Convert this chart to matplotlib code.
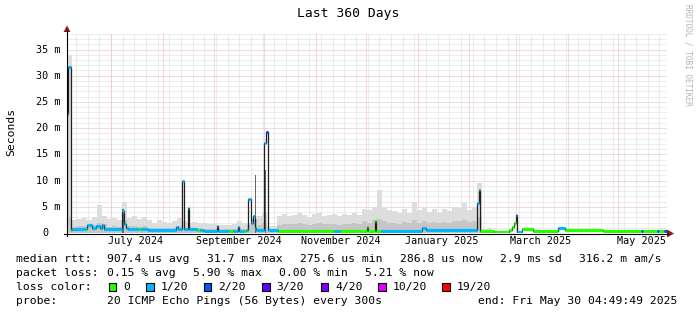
import matplotlib
matplotlib.use('Agg')
import matplotlib.pyplot as plt
from matplotlib.patches import Polygon, Rectangle
from datetime import datetime, timedelta

# ---- data (times in days since graph start, values in ms) ----
START = datetime(2024, 6, 4, 4, 49, 49)
SPAN = 360.0

# median rtt, step series: value holds until the next day entry
med_day = [0.0, 0.4, 1.0, 2.6, 3.3, 11.7, 12.3, 15.0, 17.4, 19.8, 21.0, 22.2,
           33.3, 34.2, 35.4, 36.6, 43.2, 44.7, 48.6, 65.4, 66.9, 69.3, 70.2,
           72.6, 73.5, 78.3, 80.1, 82.5, 90.0, 90.6, 97.5, 99.9, 102.9, 103.5,
           106.2, 107.7, 108.6, 109.5, 110.4, 111.6, 112.8, 113.7, 118.2, 119.4,
           120.6, 126.9, 160.2, 164.1, 180.0, 180.6, 185.1, 185.7, 188.7, 213.0,
           215.7, 246.3, 247.2, 248.1, 256.5, 265.5, 267.0, 268.2, 269.4, 270.3,
           273.0, 279.9, 294.9, 298.8, 321.9, 344.7, 345.9, 354.3, 355.2, 358.5]
med_ms = [3.3, 22.7, 31.7, 0.55, 0.75, 0.8, 1.5, 1.0, 1.3, 1.0, 1.6, 0.8,
          4.2, 1.7, 1.0, 0.8, 0.7, 0.8, 0.65, 1.2, 0.7, 9.9, 0.7,
          4.7, 0.7, 0.6, 0.6, 0.45, 1.3, 0.45, 0.45, 0.45, 1.2, 0.45,
          0.45, 0.5, 6.4, 6.5, 1.9, 3.3, 1.0, 0.5, 17.2, 19.3,
          0.5, 0.3, 0.35, 0.3, 1.2, 0.3, 2.2, 0.35, 0.45, 0.9,
          0.5, 5.7, 8.2, 0.45, 0.2, 0.6, 1.2, 2.0, 3.5, 0.25,
          0.7, 0.35, 1.0, 0.5, 0.3, 0.3, 0.3, 0.3, 0.3, 0.3]
# loss bin index per median step: 0 = 0, 1 = 1/20, 2 = 2/20
med_loss = [1, 1, 1, 0, 1, 0, 1, 1, 1, 1, 1, 1,
            1, 1, 1, 1, 0, 1, 1, 1, 1, 1, 1,
            1, 1, 0, 1, 1, 1, 1, 0, 1, 1, 1,
            0, 1, 1, 1, 1, 1, 1, 1, 1, 2,
            1, 0, 1, 0, 0, 0, 0, 0, 1, 1,
            1, 1, 1, 0, 0, 0, 0, 0, 1, 1,
            0, 0, 1, 0, 0, 2, 0, 2, 0, 2]

# smoke, 3-day bins
smoke_top = [34.0,
             2.4, 2.6, 2.9, 2.5, 3.1, 5.4, 3.2, 2.6, 2.9, 2.4, 6.0, 2.8, 3.3, 2.6, 3.0,
             2.4, 2.0, 2.4, 2.1, 2.0, 2.3, 2.8, 2.2, 2.0, 2.1, 1.9, 2.0, 1.8, 1.7, 1.6,
             1.6, 1.5, 1.7, 2.2, 1.9,
             2.0, 2.5, 3.2, 3.8, 1.4, 1.4,
             3.2, 3.6, 3.3, 3.5, 3.8, 3.4, 3.0, 3.6, 3.9, 3.3, 3.5, 3.7, 3.2, 3.6, 3.4,
             3.8, 3.5,
             4.6, 4.3, 5.0, 8.2, 4.8, 4.4,
             4.2, 3.8, 4.5, 3.9, 5.9, 4.3, 4.8, 4.0, 4.5, 3.9, 4.6, 4.2, 5.0, 4.8, 5.7,
             4.4, 4.8,
             9.6, 0.8, 1.0] + [0.0] * 35
smoke_mid = [3.0,
             1.2, 1.3, 1.4, 1.8, 1.5, 2.0, 1.8, 1.2, 1.3, 1.2, 2.5, 1.4, 1.3, 1.2, 1.3,
             1.0, 0.9, 1.0, 0.9, 0.9, 1.0, 1.3, 1.0, 0.9, 0.9, 0.9, 0.8, 0.8, 0.8, 0.8,
             0.7, 0.7, 0.8, 0.9, 0.8,
             1.6, 2.6, 1.5, 2.0, 0.8, 0.8,
             1.6, 1.8, 1.7, 1.8, 1.9, 1.7, 1.5, 1.8, 1.9, 1.7, 1.8, 1.8, 1.6, 1.8, 1.7,
             1.9, 1.8,
             2.2, 2.0, 2.4, 2.6, 2.2, 2.0,
             2.0, 1.8, 2.1, 1.9, 2.4, 2.0, 2.2, 1.9, 2.1, 1.9, 2.1, 2.0, 2.3, 2.2, 2.5,
             2.1, 2.2,
             3.0, 0.5, 0.6] + [0.0] * 35
# dark smoke streaks next to spikes
dark_day0 = [33.3, 112.8, 118.8]
dark_day1 = [34.2, 113.7, 119.7]
dark_top = [4.5, 11.0, 12.0]

loss_labels = ['0', '1/20', '2/20', '3/20', '4/20', '10/20', '19/20']
loss_colors = ['#26ff00', '#00b8ff', '#0059ff', '#5e00ff', '#7e00ff', '#dd00ff', '#ff0000']

stats_rtt = ['907.4 us avg', '31.7 ms max', '275.6 us min', '286.8 us now', '2.9 ms sd', '316.2 m am/s']
stats_loss = ['0.15 % avg', '5.90 % max', '0.00 % min', '5.21 % now']

# ---- layout ----
W, H = 697, 315
PX0, PX1 = 66.5, 666.5
PY0, PY1 = 233.0, 33.0
YMAX = 38.15
MONO = 'DejaVu Sans Mono'


def day_of(dt):
    return (dt - START).total_seconds() / 86400.0


fig = plt.figure(figsize=(W / 100, H / 100), dpi=100)
fig.patch.set_facecolor('white')
ax = fig.add_axes([PX0 / W, 1 - PY0 / H, (PX1 - PX0) / W, (PY0 - PY1) / H])
ax.set_xlim(0, SPAN)
ax.set_ylim(0, YMAX)
ax.axis('off')

grid_minor = '#dadada'
grid_major = '#f2b4b4'
dots = (0, (1, 1))

# horizontal grid: 1 m minor, 5 m major
for m in range(1, 39):
    ax.axhline(m, color=grid_major if m % 5 == 0 else grid_minor, lw=0.72, ls=dots, zorder=0)

# vertical grid: weekly (Mondays) minor, monthly major
d = datetime(2024, 6, 10, 0, 0)
while d < START + timedelta(days=SPAN):
    ax.axvline(day_of(d), color=grid_minor, lw=0.72, ls=dots, zorder=0)
    d += timedelta(days=7)
month_starts = []
for y, mo in [(2024, m) for m in range(7, 13)] + [(2025, m) for m in range(1, 6)]:
    month_starts.append(datetime(y, mo, 1))
for ms in month_starts:
    ax.axvline(day_of(ms), color=grid_major, lw=0.72, ls=dots, zorder=0.5)

# smoke
edges = [3.0 * i for i in range(len(smoke_top) + 1)]
ax.fill_between(edges, smoke_top + [smoke_top[-1]], step='post', color='#dddddd', lw=0, zorder=1)
ax.fill_between(edges, smoke_mid + [smoke_mid[-1]], step='post', color='#c6c6c6', lw=0, zorder=1.1)
for a, b, t in zip(dark_day0, dark_day1, dark_top):
    ax.fill_between([a, b], [t, t], color='#686868', lw=0, zorder=1.2)

# median: thin dark line then loss coloured dashes
ax.step(med_day + [SPAN], med_ms + [med_ms[-1]], where='post', color='#202020', lw=0.9, zorder=2)
for i in range(len(med_day)):
    d1 = med_day[i + 1] if i + 1 < len(med_day) else SPAN
    ax.hlines(med_ms[i], med_day[i], d1, color=loss_colors[med_loss[i]], lw=2.3, zorder=3,
              capstyle='butt')

# ---- overlay in pixel coordinates ----
ov = fig.add_axes([0, 0, 1, 1])
ov.set_xlim(0, W)
ov.set_ylim(H, 0)
ov.axis('off')
ov.patch.set_alpha(0)

ov.plot([67, 67], [236, 31], color='black', lw=0.8)
ov.plot([64, 668], [233.5, 233.5], color='black', lw=0.8)
ov.add_patch(Polygon([[63.5, 32], [70.5, 32], [67, 25.5]], closed=True, color='#8b1a1a', lw=0))
ov.add_patch(Polygon([[667, 229.5], [667, 237.5], [674, 233.5]], closed=True, color='#8b1a1a', lw=0))

ov.text(348, 14, 'Last 360 Days', family=MONO, fontsize=9.4, ha='center', va='center')
ov.text(11, 132, 'Seconds', family=MONO, fontsize=8.2, rotation=90, ha='center', va='center')
ov.text(688, 4, 'RRDTOOL / TOBI OETIKER', family=MONO, fontsize=5.6, rotation=-90,
        ha='center', va='top', color='#b4b4b4')

# y tick labels
for v in range(0, 36, 5):
    py = PY0 - v / YMAX * (PY0 - PY1)
    ov.text(60 if v else 48.5, py, f'{v} m' if v else '0', family=MONO, fontsize=7.3,
            ha='right', va='center')

# month labels, centred mid month
for ms in month_starts:
    if ms.month % 2 == 1:
        dd = day_of(ms + timedelta(days=14.5))
        px = PX0 + dd / SPAN * (PX1 - PX0)
        ov.text(px, 241.5, ms.strftime('%B %Y'), family=MONO, fontsize=7.3, ha='center', va='center')

# legend block
fs = 8.2
ov.text(16, 259, 'median rtt:', family=MONO, fontsize=fs, va='center')
for x, s in zip([107, 207, 300.5, 400, 500, 579], stats_rtt):
    ov.text(x, 259, s, family=MONO, fontsize=fs, va='center')
ov.text(16, 273, 'packet loss:', family=MONO, fontsize=fs, va='center')
for x, s in zip([107, 193, 279, 365], stats_loss):
    ov.text(x, 273, s, family=MONO, fontsize=fs, va='center')
ov.text(16, 287, 'loss color:', family=MONO, fontsize=fs, va='center')
box_x = [108.5, 146, 203.5, 262, 320.5, 378, 442]
for bx, c, lab in zip(box_x, loss_colors, loss_labels):
    ov.add_patch(Rectangle((bx, 282.5), 7.5, 8.5, facecolor=c, edgecolor='black', lw=0.8))
    ov.text(bx + 14.5, 287, lab, family=MONO, fontsize=fs, va='center')
ov.text(16, 301, 'probe:', family=MONO, fontsize=fs, va='center')
ov.text(107, 301, '20 ICMP Echo Pings (56 Bytes) every 300s', family=MONO, fontsize=fs, va='center')
ov.text(478, 301, 'end: Fri May 30 04:49:49 2025', family=MONO, fontsize=fs, va='center')

fig.savefig('out.png', dpi=100)
